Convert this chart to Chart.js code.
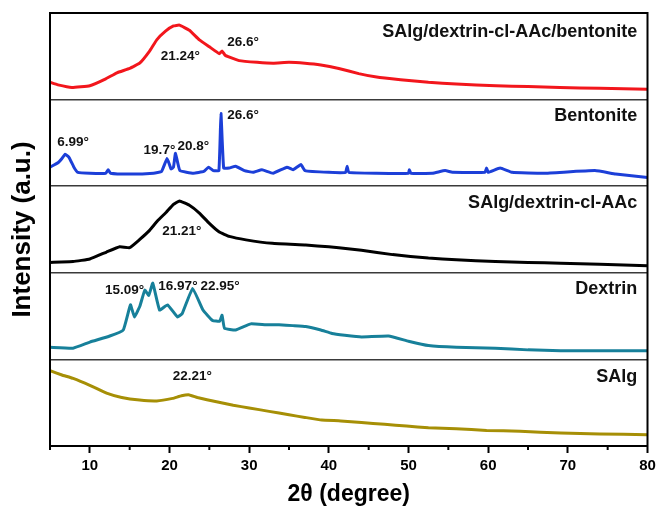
<!DOCTYPE html>
<html>
<head>
<meta charset="utf-8">
<script src="https://cdn.jsdelivr.net/npm/chart.js"></script>
<style>
  html, body { margin: 0; padding: 0; background: #fff; }
  canvas { display: block; }
</style>
</head>
<body>
<canvas id="xrd" width="658" height="508"></canvas>
<script>
const panelNames = ['SAlg', 'Dextrin', 'SAlg/dextrin-cl-AAc', 'Bentonite', 'SAlg/dextrin-cl-AAc/bentonite'];

const salgX = [5, 6.5, 7.9, 10, 12.1, 14, 16.25, 18.4, 20.4, 21.5, 22.5, 23.5, 25.9, 28, 30, 32.5, 35, 37, 39.1, 41.5, 44.1, 47, 49.75, 52.5, 56, 59.8, 64, 69.1, 74, 80];
const salgY = [87, 82, 78, 70, 61, 56, 53, 52, 55, 58, 59, 56, 51, 47, 44, 40, 36, 33, 30, 29, 27, 25, 23, 21, 20, 18, 17, 15, 14, 13];

const dextrinX = [5, 7.9, 10, 12.5, 14.2, 15.1, 15.6, 16.3, 16.9, 17.4, 17.9, 18.75, 19.75, 21, 21.6, 22.9, 24.2, 25.4, 26.3, 26.6, 26.9, 28.3, 30.2, 32.1, 33.75, 35.5, 37.1, 39, 40.4, 42, 44.1, 47.5, 50, 52.5, 56, 60.9, 65, 69.1, 74, 80];
const dextrinY = [14, 13, 20, 27, 34, 63, 49, 62, 80, 74, 88, 57, 63, 49, 53, 82, 57, 45, 44, 51, 36, 34, 41, 40, 40, 39, 38, 34, 30, 28, 26, 27, 21, 16, 14, 13, 11, 10, 10, 10];

const gelX = [5, 7.9, 10, 12.1, 13.75, 15, 16.2, 17.5, 18.5, 19.6, 20.5, 21.25, 22.5, 23.75, 25, 26.25, 27.5, 29.6, 32.9, 37.1, 40, 41.25, 44.1, 48, 52.5, 56, 60.9, 65, 69.1, 74, 80];
const gelY = [12, 13, 16, 24, 30, 29, 38, 49, 60, 70, 79, 83, 78, 69, 57, 47, 42, 38, 34, 32, 30, 29, 26, 21, 17, 15, 13, 12, 11, 10, 8];

const bentoniteX = [5, 6, 6.5, 6.9, 7.4, 8, 8.5, 10, 12, 12.3, 12.6, 15, 18, 19, 19.7, 20.2, 20.5, 20.75, 21.3, 23, 24.3, 24.9, 25.5, 26.2, 26.46, 26.8, 27.5, 28.3, 29.4, 30.5, 31.6, 33, 34.75, 35.5, 36.5, 37, 40, 42.1, 42.3, 42.5, 46, 50, 50.1, 50.3, 53, 54.6, 55.5, 59.6, 59.8, 60, 61.5, 63, 67, 73.4, 76, 80];
const bentoniteY = [22, 27, 32, 37, 33, 22, 16, 15, 15, 19, 15, 14, 15, 17, 32, 20, 22, 38, 18, 15, 17, 22, 18, 18, 84, 21, 21, 23, 18, 16, 19, 15, 22, 19, 25, 18, 16, 16, 23, 16, 15, 15, 19, 15, 15, 18, 16, 16, 21, 16, 21, 16, 15, 18, 14, 10];

const compositeX = [5, 6, 7.75, 10, 12, 13.4, 15, 16.25, 17.5, 18.4, 19.5, 20.5, 21.25, 22.5, 23.75, 25, 26.25, 26.6, 27, 28.75, 31, 33, 35, 37, 39, 41.25, 43.75, 46, 49, 52.5, 56, 61, 65, 69, 74, 80];
const compositeY = [20, 17, 14, 16, 24, 31, 36, 42, 56, 69, 79, 85, 86, 80, 69, 61, 53, 56, 51, 45, 43, 42, 43, 42, 40, 36, 30, 26, 23, 20, 18, 16, 15, 14, 13, 12];

const xTicks = [10, 20, 30, 40, 50, 60, 70, 80];

// peak labels: [text, 2theta of left edge, height in stacked units]
const peakLabels = [
  ['21.24°', 18.9, 450], ['26.6°', 27.25, 466],
  ['6.99°', 5.9, 351], ['19.7°', 16.75, 342], ['20.8°', 21, 346], ['26.6°', 27.25, 382],
  ['21.21°', 19.1, 248],
  ['15.09°', 11.9, 180], ['16.97°', 18.6, 184], ['22.95°', 23.9, 184],
  ['22.21°', 20.4, 80]
];
const nameY = [80, 181, 281, 381, 478];

const colors = ['#a68f06', '#17809a', '#000000', '#1c3fd8', '#f2161c'];

function stack(xs, ys, panel) {
  return xs.map((x, i) => ({ x: x, y: ys[i] + panel * 100 }));
}

const series = [
  [salgX, salgY], [dextrinX, dextrinY], [gelX, gelY], [bentoniteX, bentoniteY], [compositeX, compositeY]
];

const FONT = "'Liberation Sans', Arial, sans-serif";

const extras = {
  id: 'extras',
  afterDatasetsDraw(chart) {
    const { ctx, chartArea: a, scales: { x, y } } = chart;
    ctx.save();
    // peak labels
    ctx.fillStyle = '#111';
    ctx.font = 'bold 13.5px ' + FONT;
    ctx.textAlign = 'left';
    ctx.textBaseline = 'middle';
    peakLabels.forEach(p => {
      ctx.fillText(p[0], x.getPixelForValue(p[1]), y.getPixelForValue(p[2]));
    });
    // panel names
    ctx.font = 'bold 18px ' + FONT;
    ctx.textAlign = 'right';
    panelNames.forEach((n, i) => {
      ctx.fillText(n, x.getPixelForValue(78.7), y.getPixelForValue(nameY[i]));
    });
    // frame
    ctx.strokeStyle = '#000';
    ctx.lineWidth = 2;
    ctx.strokeRect(a.left, a.top, a.right - a.left, a.bottom - a.top);
    // minor ticks
    for (let v = 5; v < 80; v += 10) {
      const px = x.getPixelForValue(v);
      ctx.beginPath();
      ctx.moveTo(px, a.bottom);
      ctx.lineTo(px, a.bottom + 4);
      ctx.stroke();
    }
    ctx.restore();
  }
};

new Chart(document.getElementById('xrd'), {
  type: 'line',
  data: {
    datasets: series.map((s, i) => ({
      label: panelNames[i],
      data: stack(s[0], s[1], i),
      borderColor: colors[i],
      borderWidth: 3,
      pointRadius: 0,
      tension: 0.1
    }))
  },
  options: {
    responsive: false,
    animation: false,
    layout: { padding: { top: 13, right: 10.5, left: 0, bottom: 0 } },
    plugins: { legend: { display: false }, tooltip: { enabled: false } },
    scales: {
      x: {
        type: 'linear',
        min: 5,
        max: 80,
        afterBuildTicks: s => { s.ticks = xTicks.map(v => ({ value: v })); },
        afterFit: s => { s.height = 62; s.paddingRight = 0; s.paddingLeft = 0; },
        ticks: { color: '#000', font: { family: FONT, size: 15, weight: 'bold' }, padding: 4, maxRotation: 0 },
        grid: { drawOnChartArea: false, drawTicks: true, tickLength: 7, tickColor: '#000', tickWidth: 2 },
        border: { display: true, color: '#000', width: 2 },
        title: { display: true, text: '2θ (degree)', color: '#000', font: { family: FONT, size: 23, weight: 'bold' }, padding: { top: 0, bottom: 0 } }
      },
      y: {
        min: 0,
        max: 500,
        afterFit: s => { s.width = 50; },
        ticks: { display: false, stepSize: 100 },
        grid: { color: '#3a3a3a', lineWidth: 1.5, drawTicks: false },
        border: { display: true, color: '#000', width: 2 },
        title: { display: true, text: 'Intensity (a.u.)', color: '#000', font: { family: FONT, size: 26, weight: 'bold' }, padding: { top: 7, bottom: 0 } }
      }
    }
  },
  plugins: [extras]
});
</script>
</body>
</html>
